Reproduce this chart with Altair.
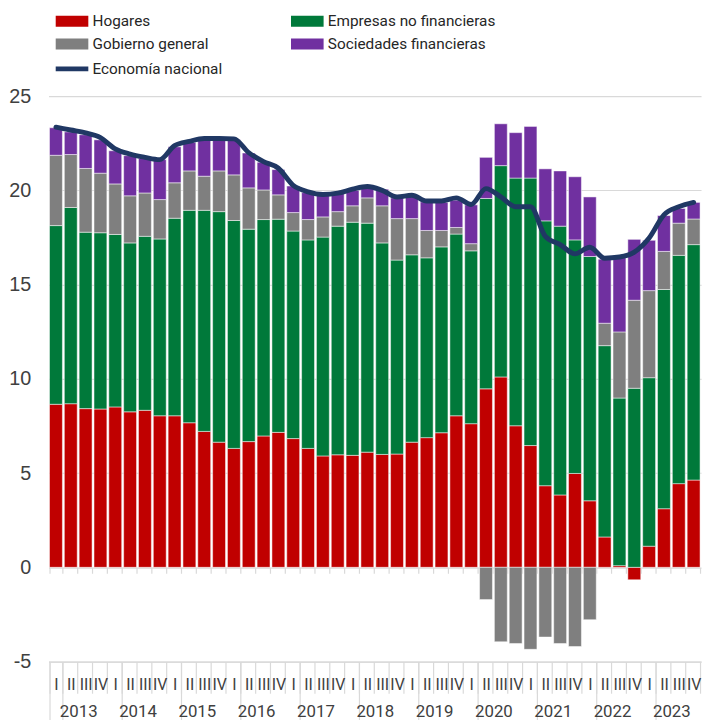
import altair as alt
import pandas as pd

years = [str(y) for y in range(2013, 2024)]
quarters = ["I", "II", "III", "IV"]

hogares = [8.65, 8.68, 8.42, 8.40, 8.51, 8.25, 8.33, 8.04, 8.04, 7.67, 7.21, 6.64,
           6.31, 6.67, 6.97, 7.16, 6.83, 6.31, 5.91, 5.97, 5.94, 6.11, 5.99, 6.01,
           6.64, 6.88, 7.14, 8.04, 7.62, 9.47, 10.10, 7.51, 6.46, 4.33, 3.84, 4.98,
           3.53, 1.61, 0.09, -0.66, 1.12, 3.11, 4.44, 4.63]
empresas = [9.48, 10.41, 9.36, 9.35, 9.15, 8.96, 9.23, 9.38, 10.48, 11.27, 11.73, 12.23,
            12.09, 11.27, 11.48, 11.31, 11.01, 11.06, 11.61, 12.13, 12.37, 12.15, 11.22, 10.29,
            9.94, 9.54, 9.86, 9.64, 9.17, 10.10, 11.21, 13.14, 14.19, 14.05, 14.26, 12.39,
            12.96, 10.15, 8.89, 9.50, 8.94, 11.63, 12.11, 12.49]
gobierno = [3.73, 2.81, 3.38, 3.16, 2.68, 2.50, 2.30, 2.09, 1.88, 2.09, 1.81, 2.16,
            2.42, 2.19, 1.57, 1.29, 0.98, 1.08, 1.07, 0.77, 0.87, 1.34, 1.97, 2.20,
            1.92, 1.45, 0.87, 0.35, 0.38, -1.71, -3.95, -4.04, -4.35, -3.70, -4.04, -4.20,
            -2.78, 1.19, 3.51, 4.67, 4.62, 2.02, 1.71, 1.36]
sociedades = [1.46, 1.20, 1.79, 1.77, 1.76, 2.13, 1.84, 2.12, 1.91, 1.51, 1.93, 1.65,
              1.88, 1.85, 1.47, 1.34, 1.41, 1.43, 1.15, 0.96, 0.82, 0.58, 0.88, 1.10,
              1.19, 1.52, 1.49, 1.45, 2.06, 2.18, 2.22, 2.41, 2.74, 2.76, 2.93, 3.35,
              3.16, 3.40, 3.97, 3.23, 2.67, 1.90, 0.78, 0.88]
economia = [23.35, 23.20, 23.05, 22.80, 22.20, 21.92, 21.75, 21.63, 22.37, 22.60, 22.75, 22.75,
            22.73, 22.00, 21.52, 21.17, 20.26, 19.92, 19.78, 19.85, 20.06, 20.20, 20.00, 19.65,
            19.74, 19.43, 19.43, 19.60, 19.25, 20.09, 19.65, 19.13, 19.13, 17.56, 17.12, 16.63,
            16.98, 16.40, 16.46, 16.72, 17.47, 18.70, 19.13, 19.36]

series = ["Hogares", "Empresas no financieras", "Gobierno general", "Sociedades financieras"]
colors = ["#C00000", "#00793A", "#7F7F7F", "#7030A0"]
line_name = "Economía nacional"
line_color = "#203864"
y_ticks = [-5, 0, 5, 10, 15, 20, 25]

keys = [f"{y}|{q}" for y in years for q in quarters]
rows = []
for i, k in enumerate(keys):
    for j, vals in enumerate([hogares, empresas, gobierno, sociedades]):
        rows.append({"k": k, "serie": series[j], "orden": j, "valor": vals[i]})
bars_df = pd.DataFrame(rows)
line_df = pd.DataFrame({"k": keys, "valor": economia, "serie": [line_name] * len(keys)})

W, H = 660, 572
px_per_unit = H / 30.0

x_scale = alt.Scale(domain=keys, paddingInner=0.13, paddingOuter=0.065)
y_scale = alt.Scale(domain=[-5, 25], nice=False, zero=False)

cond = "Roboto"
lab_col = "#404040"
grid_col = "#D9D9D9"
leg_size = 15.5

y_axis = alt.Axis(values=y_ticks, grid=True, gridColor=grid_col, gridWidth=1.2,
                  domain=False, ticks=False, labelFont="Liberation Sans",
                  labelExpr="'' + datum.value",
                  labelFontSize=20, labelColor=lab_col, labelPadding=18)

rect_path = "M-2,-0.667H2V0.667H-2Z"

bars = alt.Chart(bars_df).mark_bar(stroke="#ffffff", strokeWidth=0.5).encode(
    x=alt.X("k:N", scale=x_scale, title=None,
            axis=alt.Axis(orient="bottom", labelExpr="split(datum.label,'|')[1]",
                          tickBand="extent", tickSize=32, tickColor=grid_col, tickWidth=1.2,
                          domain=True, domainColor=grid_col, domainWidth=1.2,
                          labelPadding=-9, labelBaseline="middle", labelAngle=0,
                          labelFont=cond, labelFontSize=16, labelColor=lab_col,
                          labelOverlap=False, labelBound=False, labelFlush=False, grid=False)),
    y=alt.Y("valor:Q", stack="zero", scale=y_scale, title=None, axis=y_axis),
    color=alt.Color("serie:N", scale=alt.Scale(domain=series, range=colors),
                    legend=alt.Legend(orient="none", legendX=15.25, legendY=-84.2,
                                      direction="horizontal",
                                      columns=2, columnPadding=83, rowPadding=6,
                                      title=None, symbolType=rect_path, symbolSize=272,
                                      symbolStrokeWidth=0, symbolOpacity=1,
                                      labelOffset=12.25, labelFont=cond,
                                      labelFontSize=leg_size, labelColor="#262626",
                                      labelLimit=300, padding=0)),
    order=alt.Order("orden:Q"),
)

line = alt.Chart(line_df).mark_line(strokeWidth=5, interpolate="monotone",
                                    strokeCap="round", strokeJoin="round").encode(
    x=alt.X("k:N", scale=x_scale, title=None,
            axis=alt.Axis(orient="bottom", values=[f"{y}|I" for y in years],
                          labelExpr="split(datum.label,'|')[0]",
                          tickBand="extent", tickSize=80, tickColor=grid_col, tickWidth=1.2,
                          domain=False, labelPadding=-29, labelBaseline="middle",
                          labelOffset=22.5, labelAngle=0,
                          labelFont=cond, labelFontSize=17, labelColor=lab_col,
                          labelOverlap=False, labelBound=False, labelFlush=False, grid=False)),
    y=alt.Y("valor:Q", scale=y_scale, title=None, axis=y_axis),
    stroke=alt.Stroke("serie:N", scale=alt.Scale(domain=[line_name], range=[line_color]),
                      legend=alt.Legend(orient="none", legendX=12.75, legendY=-38.5,
                                        title=None, symbolType="M-2,0H2", symbolSize=272,
                                        symbolStrokeWidth=5, labelOffset=9.75,
                                        labelFont=cond, labelFontSize=leg_size,
                                        labelColor="#262626", labelLimit=300, padding=0)),
)

zero_ticks = alt.Chart(line_df).mark_point(opacity=0).encode(
    x=alt.X("k:N", scale=x_scale, title=None,
            axis=alt.Axis(orient="bottom", offset=-5 * px_per_unit, labels=False,
                          domain=False, tickBand="extent", tickSize=6,
                          tickColor=grid_col, tickWidth=1.2, grid=False)),
    y=alt.Y("valor:Q", scale=y_scale, title=None, axis=y_axis),
)

chart = alt.layer(bars, line, zero_ticks).resolve_axis(x="independent").properties(
    width=W, height=H,
    autosize=alt.AutoSizeParams(type="none"),
    padding={"left": 41, "top": 85, "right": 2, "bottom": 55},
    background="white",
).configure_view(stroke=None)

chart.save("out.html", embed_options={"renderer": "svg", "actions": False})
